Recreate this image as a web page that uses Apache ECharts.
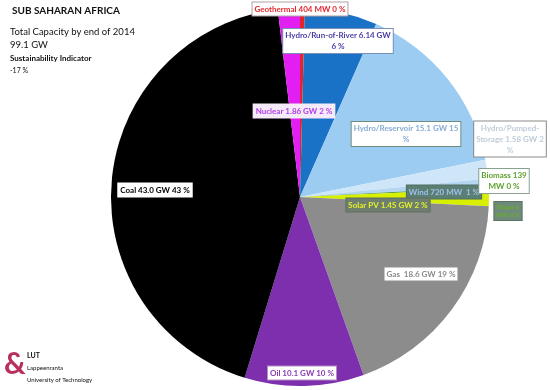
<!DOCTYPE html>
<html><head><meta charset="utf-8">
<script src="https://cdn.jsdelivr.net/npm/echarts@6/dist/echarts.min.js"></script>
<style>html,body{margin:0;padding:0;background:#fff}#c{width:550px;height:390px}</style>
</head><body><div id="c"></div>
<script>
// Data (GW), clockwise from 12 o'clock
const categories = ['Geothermal','Hydro/Run-of-River','Hydro/Reservoir','Hydro/Pumped-Storage','Wind','Biomass','Biogas','Solar PV','Gas','Oil','Coal','Nuclear'];
const capacityGW = [0.404, 6.14, 15.1, 1.58, 0.72, 0.139, 0.006, 1.45, 18.6, 10.1, 43.0, 1.86];
const labelTexts = [
  'Geothermal 404 MW 0 %',
  'Hydro/Run-of-River 6.14 GW\n6 %',
  'Hydro/Reservoir 15.1 GW 15\n%',
  'Hydro/Pumped-\nStorage 1.58 GW 2\n%',
  'Wind 720 MW  1 %',
  'Biomass 139\nMW 0 %',
  'Biogas 6\nMW 0 %',
  'Solar PV 1.45 GW 2 %',
  'Gas  18.6 GW 19 %',
  'Oil 10.1 GW 10 %',
  'Coal 43.0 GW 43 %',
  'Nuclear 1.86 GW 2 %'
];
const sliceColors = ['#e4242a','#1a72c6','#9cccf2','#cfe6f8','#b4d6f0','#3f8f3a','#7fb56a','#d8f000','#8c8c8c','#7d2fae','#000000','#e21ef2'];
const labelStyles = [
  {color:'#e0282e', bg:'#ffffff', border:'#b0a0a0'},
  {color:'#4a3fa6', bg:'#ffffff', border:'#7a90b8'},
  {color:'#86acd4', bg:'#ffffff', border:'#6e8c80'},
  {color:'#c0ccd8', bg:'#ffffff', border:'#8a8a8a'},
  {color:'#9fc0ea', bg:'#5c7f74', border:'#4e6e62'},
  {color:'#5ea02c', bg:'#ffffff', border:'#8aa090'},
  {color:'#6aae2c', bg:'#6e8a78', border:'#5a7060'},
  {color:'#e4f028', bg:'#6f7f6f', border:'#5f6f5f'},
  {color:'#8a8a8a', bg:'#ffffff', border:'#909090'},
  {color:'#8c3cb4', bg:'#ffffff', border:'#b090c0'},
  {color:'#000000', bg:'#ffffff', border:'#ffffff'},
  {color:'#b43ce8', bg:'#f4eaf8', border:'#f4eaf8'}
];
// label anchor points (centre of label box), px
const labelAnchors = [
  [300,9],[338,41],[406,134],[510,139],[444,192],[504,181],[508,211],[388,205],[421,274],[302,373],[155,190],[294,111]
];

const chart = echarts.init(document.getElementById('c'), null, {renderer:'canvas'});
const font = 'Lato, "Liberation Sans", sans-serif';
const data = categories.map((name,i)=>({
  name, value: capacityGW[i],
  itemStyle:{color: sliceColors[i]},
  label:{
    show:true, formatter: labelTexts[i], color: labelStyles[i].color,
    backgroundColor: labelStyles[i].bg, borderColor: labelStyles[i].border, borderWidth:1,
    padding:[1,2], fontSize: i===6 ? 6 : 8, fontWeight:'bold', fontFamily: font,
    align:'center', lineHeight: i===6 ? 8 : 11
  }
}));

chart.setOption({
  animation:false,
  series:[{
    type:'pie', center:[300,197], radius:189, startAngle:90, clockwise:true,
    avoidLabelOverlap:false, labelLine:{show:false},
    itemStyle:{borderWidth:0},
    emphasis:{disabled:true},
    data,
    labelLayout: function(p){
      const a = labelAnchors[p.dataIndex];
      return {x:a[0], y:a[1], align:'center', verticalAlign:'middle'};
    }
  }],
  graphic:[
    {type:'text', left:12, top:6, style:{text:'SUB SAHARAN AFRICA', font:'bold 10px '+font, fill:'#111'}},
    {type:'text', left:10, top:27, style:{text:'Total Capacity by end of 2014', font:'9.5px '+font, fill:'#111'}},
    {type:'text', left:10, top:40, style:{text:'99.1 GW', font:'9.5px '+font, fill:'#111'}},
    {type:'text', left:10, top:54, style:{text:'Sustainability Indicator', font:'bold 8px '+font, fill:'#111'}},
    {type:'text', left:10, top:67, style:{text:'-17 %', font:'7px '+font, fill:'#111'}},
    {type:'text', left:4, top:349, style:{text:'&', font:'bold 30px '+font, fill:'#b8315c'}},
    {type:'text', left:27, top:352, style:{text:'LUT', font:'bold 7px '+font, fill:'#111'}},
    {type:'text', left:27, top:365, style:{text:'Lappeenranta', font:'6px '+font, fill:'#111'}},
    {type:'text', left:27, top:377, style:{text:'University of Technology', font:'6px '+font, fill:'#111'}}
  ]
});
</script></body></html>
